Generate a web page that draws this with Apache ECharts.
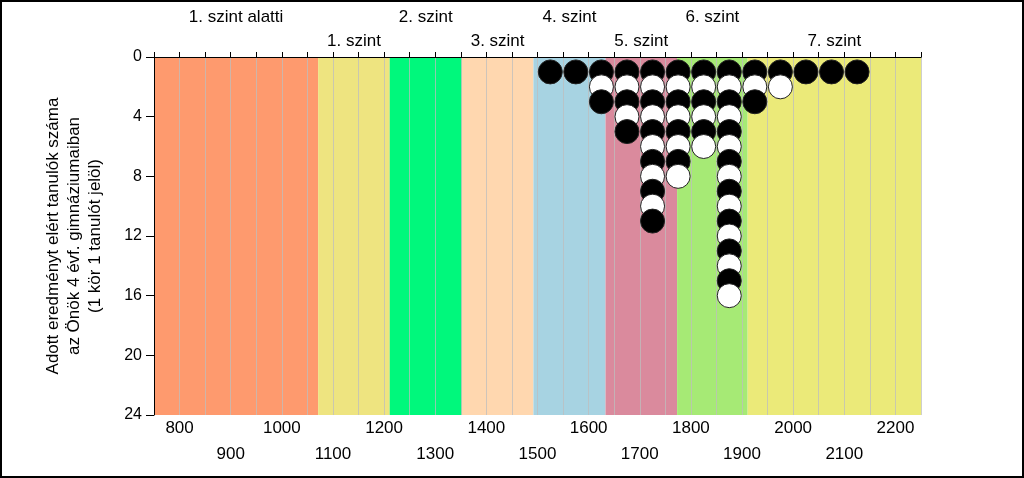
<!DOCTYPE html>
<html>
<head>
<meta charset="utf-8">
<script src="https://cdn.jsdelivr.net/npm/echarts@6/dist/echarts.min.js"></script>
<style>
  html, body { margin: 0; padding: 0; background: #fff; }
  #chart { width: 1024px; height: 478px; }
</style>
</head>
<body>
<div id="chart"></div>
<script>
// képességszintek határai (pont)
var bandEdges = [750, 1071, 1211, 1352, 1492, 1633, 1773, 1911, 2250];
var bandNames = ['1. szint alatti', '1. szint', '2. szint', '3. szint', '4. szint', '5. szint', '6. szint', '7. szint'];
var bandColors = ['#FE9A6E', '#EEE480', '#00F87C', '#FFD7AF', '#A7D3E2', '#DA8A9D', '#A6EA75', '#EBEA79'];

// egy oszlop kör minden 50 pontos sávban
var binCenters = [1525, 1575, 1625, 1675, 1725, 1775, 1825, 1875, 1925, 1975, 2025, 2075, 2125];
var binCounts = [1, 1, 3, 5, 11, 8, 6, 16, 3, 2, 1, 1, 1];

var xMin = 750, xMax = 2250, xStep = 50;
var yMin = 0, yMax = 24, yStep = 4;
var yName = 'Adott eredményt elért tanulók száma\naz Önök 4 évf. gimnáziumaiban\n(1 kör 1 tanulót jelöl)';

var font = 'Arial, "Liberation Sans", sans-serif';

var bands = [];
for (var i = 0; i < bandNames.length; i++) {
  bands.push([bandEdges[i], bandEdges[i + 1], i]);
}

var dots = [];
binCenters.forEach(function (x, i) {
  for (var k = 1; k <= binCounts[i]; k++) {
    dots.push({
      value: [x, k],
      itemStyle: { color: k % 2 ? '#000' : '#fff' }
    });
  }
});

function renderBand(params, api) {
  var idx = api.value(2);
  var a = api.coord([api.value(0), yMax]);
  var b = api.coord([api.value(1), yMin]);
  var top = Math.min(a[1], b[1]);
  var bottom = Math.max(a[1], b[1]);
  return {
    type: 'group',
    children: [{
      type: 'rect',
      shape: { x: a[0], y: top, width: b[0] - a[0], height: bottom - top },
      style: { fill: bandColors[idx] }
    }, {
      type: 'text',
      x: (a[0] + b[0]) / 2,
      y: top - (idx % 2 === 0 ? 40 : 16),
      style: {
        text: bandNames[idx],
        align: 'center',
        verticalAlign: 'middle',
        fill: '#000',
        font: '17px ' + font
      }
    }]
  };
}

var chart = echarts.init(document.getElementById('chart'));
chart.setOption({
  animation: false,
  backgroundColor: '#fff',
  textStyle: { fontFamily: font },
  graphic: [{
    type: 'rect',
    shape: { x: 1, y: 1, width: 1022, height: 476 },
    style: { fill: 'none', stroke: '#000', lineWidth: 2 },
    z: 100
  }],
  grid: { left: 154, right: 103, top: 57, bottom: 63 },
  xAxis: [{
    type: 'value',
    position: 'bottom',
    min: xMin, max: xMax, interval: xStep,
    z: 2,
    axisLine: { lineStyle: { color: '#333', width: 1 } },
    axisTick: { inside: true, length: 4, lineStyle: { color: '#555' } },
    axisLabel: {
      margin: 0,
      color: '#000',
      fontSize: 17,
      lineHeight: 26,
      formatter: function (v) {
        if (v % 200 === 0) return String(v);
        if (v % 100 === 0) return '\n' + v;
        return '';
      }
    },
    splitLine: { show: true, lineStyle: { color: 'rgba(190,190,190,0.75)', width: 1 } }
  }, {
    type: 'value',
    position: 'top',
    min: xMin, max: xMax, interval: xStep,
    z: 2,
    axisLine: { lineStyle: { color: '#000', width: 1 } },
    axisTick: { length: 5, lineStyle: { color: '#000' } },
    axisLabel: { show: false },
    splitLine: { show: false }
  }],
  yAxis: {
    type: 'value',
    inverse: true,
    min: yMin, max: yMax, interval: yStep,
    z: 2,
    name: yName,
    nameLocation: 'middle',
    nameGap: 48,
    nameTextStyle: { fontSize: 17, lineHeight: 21, color: '#000' },
    axisLine: { show: true, lineStyle: { color: '#000' } },
    axisTick: { show: true, length: 8, lineStyle: { color: '#000' } },
    axisLabel: { margin: 12, fontSize: 16, color: '#000' },
    splitLine: { show: false }
  },
  series: [{
    type: 'custom',
    z: 1,
    renderItem: renderBand,
    data: bands,
    silent: true
  }, {
    type: 'scatter',
    z: 3,
    symbol: 'circle',
    symbolSize: 24,
    itemStyle: { borderColor: '#222', borderWidth: 1, opacity: 1 },
    data: dots
  }]
});
</script>
</body>
</html>
